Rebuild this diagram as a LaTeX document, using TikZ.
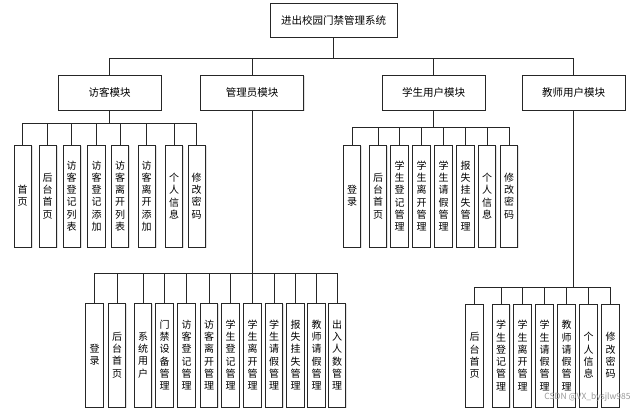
\documentclass[tikz,border=0pt]{standalone}
\usepackage{fontspec}
\newfontfamily\cjk{Noto Sans CJK SC}
\usetikzlibrary{shadows}
\begin{document}
\begin{tikzpicture}[x=1pt,y=-1pt,
  cell/.style={draw=black!85, line width=0.9pt, fill=white, inner sep=0pt,
    drop shadow={shadow xshift=1.2pt, shadow yshift=-1.2pt, fill=black!22}},
  rootbox/.style={cell, minimum width=127pt, minimum height=34pt, font=\cjk\fontsize{10.5}{12}\selectfont},
  modbox/.style={cell, minimum width=103pt, minimum height=35pt, font=\cjk\fontsize{10.5}{12}\selectfont},
  leafbox/.style={cell, minimum width=17.5pt, align=center, font=\cjk\fontsize{10}{12.3}\selectfont},
  upleaf/.style={leafbox, minimum height=102pt},
  lowleaf/.style={leafbox, minimum height=104pt},
  link/.style={draw=black!85, line width=0.9pt}]
\useasboundingbox (0,0) rectangle (640,408);
\fill[white] (0,0) rectangle (640,408);

% root and modules
\node[rootbox] (root) at (333.5,20) {进出校园门禁管理系统};
\node[modbox] (m1) at (109.5,92.5) {访客模块};
\node[modbox] (m2) at (252,92.5) {管理员模块};
\node[modbox] (m3) at (433.5,92.5) {学生用户模块};
\node[modbox] (m4) at (573.5,92.5) {教师用户模块};

% visitor leaves
\node[upleaf] (v1) at (22.7,196) {首\\页};
\node[upleaf] (v2) at (47.7,196) {后\\台\\首\\页};
\node[upleaf] (v3) at (71.7,196) {访\\客\\登\\记\\列\\表};
\node[upleaf] (v4) at (96.5,196) {访\\客\\登\\记\\添\\加};
\node[upleaf] (v5) at (120,196) {访\\客\\离\\开\\列\\表};
\node[upleaf] (v6) at (146.7,196) {访\\客\\离\\开\\添\\加};
\node[upleaf] (v7) at (174,196) {个\\人\\信\\息};
\node[upleaf] (v8) at (196.7,196) {修\\改\\密\\码};

% student leaves
\node[upleaf] (s1) at (352,196) {登\\录};
\node[upleaf] (s2) at (378,196) {后\\台\\首\\页};
\node[upleaf] (s3) at (399.5,196) {学\\生\\登\\记\\管\\理};
\node[upleaf] (s4) at (421.5,196) {学\\生\\离\\开\\管\\理};
\node[upleaf] (s5) at (443.5,196) {学\\生\\请\\假\\管\\理};
\node[upleaf] (s6) at (465.5,196) {报\\失\\挂\\失\\管\\理};
\node[upleaf] (s7) at (487,196) {个\\人\\信\\息};
\node[upleaf] (s8) at (509,196) {修\\改\\密\\码};

% admin leaves
\node[lowleaf] (a1) at (94.5,355) {登\\录};
\node[lowleaf] (a2) at (117,355) {后\\台\\首\\页};
\node[lowleaf] (a3) at (143,355) {系\\统\\用\\户};
\node[lowleaf] (a4) at (164.5,355) {门\\禁\\设\\备\\管\\理};
\node[lowleaf] (a5) at (186.5,355) {访\\客\\登\\记\\管\\理};
\node[lowleaf] (a6) at (209,355) {访\\客\\离\\开\\管\\理};
\node[lowleaf] (a7) at (230.5,355) {学\\生\\登\\记\\管\\理};
\node[lowleaf] (a8) at (252.5,355) {学\\生\\离\\开\\管\\理};
\node[lowleaf] (a9) at (274,355) {学\\生\\请\\假\\管\\理};
\node[lowleaf] (a10) at (295.5,355) {报\\失\\挂\\失\\管\\理};
\node[lowleaf] (a11) at (316.5,355) {教\\师\\请\\假\\管\\理};
\node[lowleaf] (a12) at (337,355) {出\\入\\人\\数\\管\\理};

% teacher leaves
\node[lowleaf, minimum height=103pt] (t1) at (474.5,355.5) {后\\台\\首\\页};
\node[lowleaf, minimum height=103pt] (t2) at (501,355.5) {学\\生\\登\\记\\管\\理};
\node[lowleaf, minimum height=103pt] (t3) at (522.5,355.5) {学\\生\\离\\开\\管\\理};
\node[lowleaf, minimum height=103pt] (t4) at (544.5,355.5) {学\\生\\请\\假\\管\\理};
\node[lowleaf, minimum height=103pt] (t5) at (566.5,355.5) {教\\师\\请\\假\\管\\理};
\node[lowleaf, minimum height=103pt] (t6) at (588.5,355.5) {个\\人\\信\\息};
\node[lowleaf, minimum height=103pt] (t7) at (610.5,355.5) {修\\改\\密\\码};

% connectors
\foreach \c in {m1,m2,m3,m4}
  \draw[link] (root.south) -- +(0,21) -| (\c.north);
\foreach \c in {v1,v2,v3,v4,v5,v6,v7,v8}
  \draw[link] (m1.south) -- +(0,12.5) -| (\c.north);
\foreach \c in {s1,s2,s3,s4,s5,s6,s7,s8}
  \draw[link] (m3.south) -- +(0,17) -| (\c.north);
\foreach \c in {a1,a2,a3,a4,a5,a6,a7,a8,a9,a10,a11,a12}
  \draw[link] (m2.south) -- +(0,163) -| (\c.north);
\foreach \c in {t1,t2,t3,t4,t5,t6,t7}
  \draw[link] (m4.south) -- +(0,177) -| (\c.north);

% watermark
\node[text=black!40, font=\cjk\fontsize{8.5}{10}\selectfont, anchor=east] (wm) at (634,397) {CSDN @VX\_bysjlw985};
\end{tikzpicture}
\end{document}
